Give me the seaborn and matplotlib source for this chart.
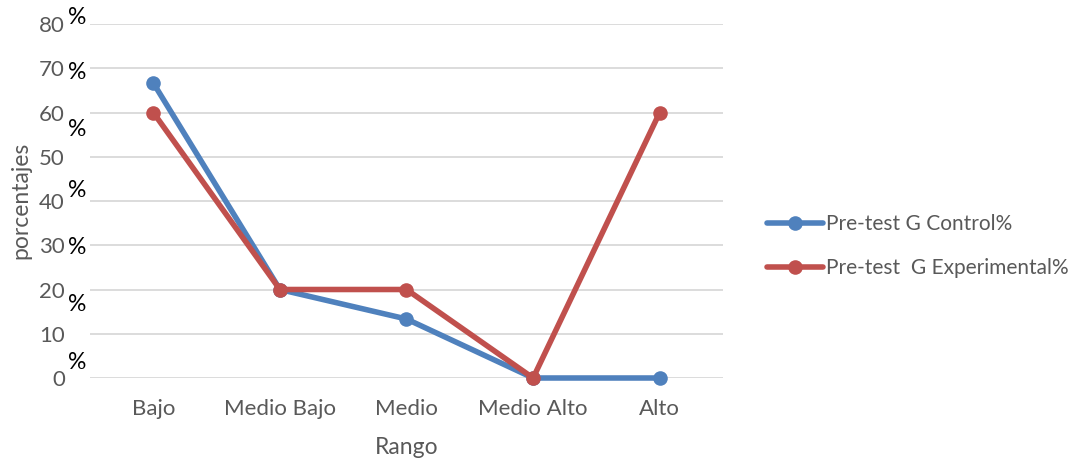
import matplotlib
matplotlib.use("Agg")
import matplotlib.pyplot as plt
import matplotlib.transforms as mtransforms
import seaborn as sns
import pandas as pd

categories = ["Bajo", "Medio Bajo", "Medio", "Medio Alto", "Alto"]
control = [66.67, 20.0, 13.33, 0.0, 0.0]
experimental = [60.0, 20.0, 20.0, 0.0, 60.0]
series_names = ["Pre-test G Control%", "Pre-test  G Experimental%"]
y_ticks = [0, 10, 20, 30, 40, 50, 60, 70, 80]
# vertical shift (pixels, + is up) of the "%" sign next to each tick number; None = no sign
pct_shift = {80: 7, 70: -4, 60: -17, 50: None, 40: 11, 30: -2, 20: -15, 10: -29, 0: None}

df = pd.DataFrame({
    "Rango": categories * 2,
    "valor": control + experimental,
    "serie": [series_names[0]] * len(categories) + [series_names[1]] * len(categories),
})
df["pos"] = list(range(len(categories))) * 2

sns.set_theme(style="white")
plt.rcParams["font.family"] = ["Lato", "DejaVu Sans"]

fig = plt.figure(figsize=(10.82, 4.65), dpi=100)
ax = fig.add_axes([90 / 1082, 1 - 378 / 465, (723 - 90) / 1082, (378 - 24) / 465])

palette = {series_names[0]: "#4F81BD", series_names[1]: "#C0504D"}
sns.lineplot(data=df, x="pos", y="valor", hue="serie", palette=palette, marker="o",
             markersize=10.5, markeredgewidth=0, linewidth=4.0, ax=ax, sort=False)

ax.set_xlim(-0.5, len(categories) - 0.5)
ax.set_ylim(0, 80)
ax.set_xticks(range(len(categories)))
ax.set_xticklabels(categories, fontsize=16, color="#595959")
ax.set_yticks(y_ticks)
ax.set_yticklabels([str(v) for v in y_ticks], fontsize=16, color="#595959")
ax.tick_params(axis="both", length=0)
ax.tick_params(axis="x", pad=15)
ax.tick_params(axis="y", pad=18)
ax.yaxis.grid(True, color="#d9d9d9", linewidth=1.3)
ax.set_axisbelow(True)
for s in ax.spines.values():
    s.set_visible(False)
for line in ax.lines:
    line.set_clip_on(False)

ax.set_xlabel("Rango", fontsize=16.5, color="#595959")
ax.set_ylabel("porcentajes", fontsize=16.5, color="#595959")
ax.xaxis.set_label_coords(0.5, -(448 - 378) / 354)
ax.xaxis.label.set_va("center")
ax.yaxis.set_label_coords(-(90 - 21) / 633, (378 - 200) / 354)
ax.yaxis.label.set_va("center")

# percent signs beside the y tick numbers
for v in y_ticks:
    shift = pct_shift[v]
    if shift is None:
        continue
    tr = mtransforms.blended_transform_factory(ax.transAxes, ax.transData)
    tr = tr + mtransforms.ScaledTranslation(0, shift / 100, fig.dpi_scale_trans)
    ax.text(-13 / 633, v, "%", transform=tr, fontsize=16.5, color="black",
            ha="center", va="center")

handles, labels = ax.get_legend_handles_labels()
leg = ax.legend(handles, labels, loc="center left", bbox_to_anchor=(748 / 1082, 1 - 246 / 465),
                bbox_transform=fig.transFigure, frameon=False, fontsize=15,
                labelspacing=1.15, handlelength=2.7, handletextpad=0.15)
for t in leg.get_texts():
    t.set_color("#595959")

fig.savefig("out.png", dpi=100)
